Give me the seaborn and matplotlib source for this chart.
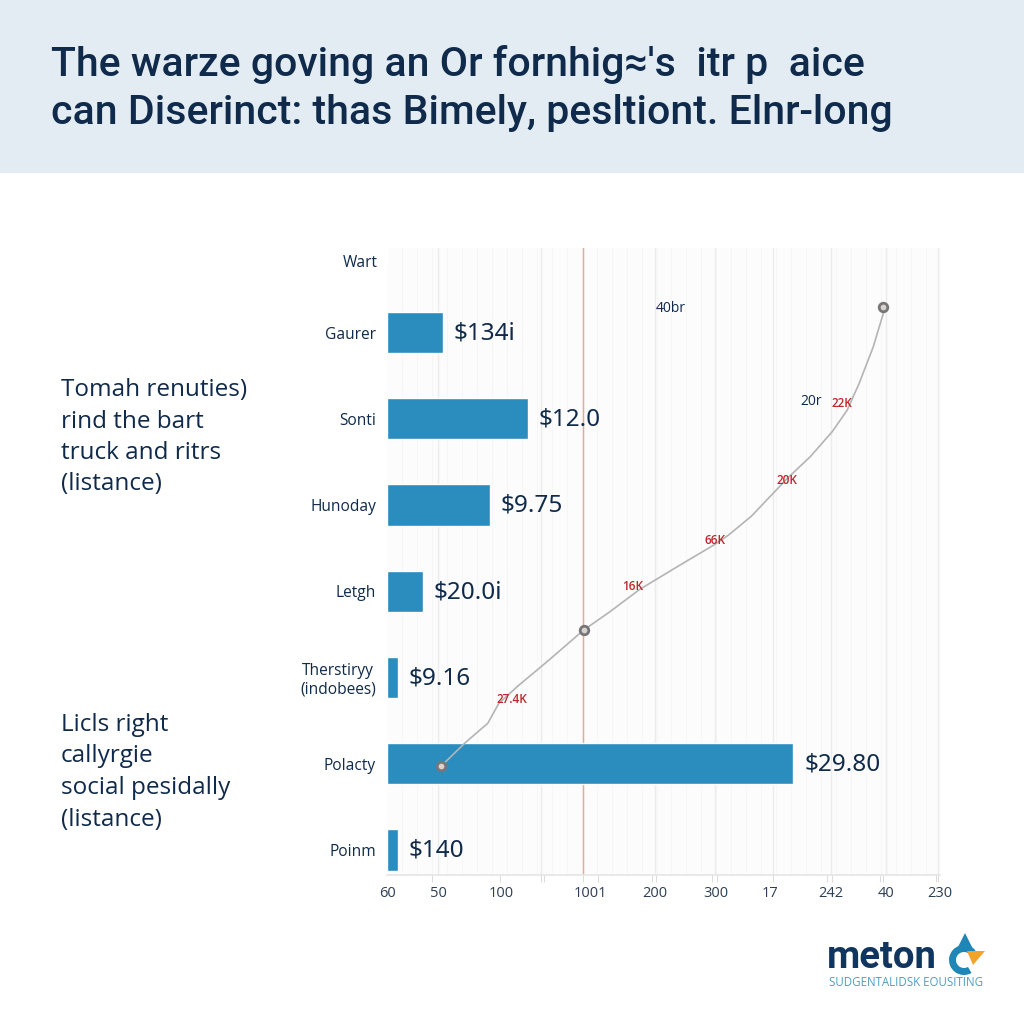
#!/usr/bin/python3

import matplotlib
matplotlib.use('Agg')
import matplotlib.pyplot as plt
from matplotlib.patches import Rectangle, Polygon, Wedge
import pandas as pd
import seaborn as sns

# Chart values (bar and line x in axis units)
categories = ['Wart', 'Gaurer', 'Sonti', 'Hunoday', 'Letgh', 'Therstiryy\n(indobees)', 'Polacty', 'Poinm']
bar_values = [0, 56, 141, 103, 36, 11, 407, 11]
bar_labels = ['', '$134i', '$12.0', '$9.75', '$20.0i', '$9.16', '$29.80', '$140']

x_ticks = [1, 52, 114, 204, 268, 329, 384, 445, 500, 554]
x_labels = ['60', '50', '100', '1001', '200', '300', '17', '242', '40', '230']
x_minor = [45, 113, 154, 157, 196, 211, 265, 269, 326, 331, 387, 441, 446, 494, 497, 550, 552]
x_grid = [51, 154, 196, 268, 329, 387, 445, 500, 552]
red_line_x = 196

line_x = [54, 78, 101, 112, 132, 160, 197, 223, 253, 293, 328, 342, 365, 402, 424, 446, 461, 473, 487, 499]
line_y = [6.03, 5.76, 5.53, 5.30, 5.09, 4.82, 4.45, 4.24, 3.98, 3.70, 3.46, 3.35, 3.13, 2.68, 2.44, 2.15, 1.90, 1.59, 1.17, 0.71]
marker_x = [54, 197, 497]
marker_y = [6.03, 4.45, 0.70]

red_labels = ['22K', '20K', '66K', '16K', '27.4K']
red_x = [456, 401, 329, 246, 125]
red_y = [1.82, 2.72, 3.41, 3.95, 5.26]
note_labels = ['40br', '20r']
note_x = [284, 425]
note_y = [0.72, 1.80]

title_lines = ["The warze goving an Or fornhig\u2248's  itr p  aice",
               "can Diserinct: thas Bimely, pesltiont. Elnr-long"]
left_top = ['Tomah renuties)', 'rind the bart', 'truck and ritrs', '(listance)']
left_bottom = ['Licls right', 'callyrgie', 'social pesidally', '(listance)']

NAVY = '#0f2a4a'
BLUE = '#2b8cbe'

sns.set_theme(style='white')
plt.rcParams['font.family'] = ['Open Sans', 'DejaVu Sans']

fig = plt.figure(figsize=(10.24, 10.24), dpi=100, facecolor='white')


def fx(px):
    return px / 1024


def fy(px):
    return 1 - px / 1024


# header band
fig.patches.append(Rectangle((0, fy(173)), 1, 173 / 1024, transform=fig.transFigure,
                             facecolor='#e3ecf3', edgecolor='none', zorder=0))
for text, y in zip(title_lines, [65, 113]):
    fig.text(fx(51), fy(y), text, fontsize=29.5, color=NAVY, va='center', ha='left', fontweight='medium',
             family=['Roboto', 'DejaVu Sans'])

# left side notes
for lines, start in [(left_top, 390), (left_bottom, 725)]:
    for i, text in enumerate(lines):
        fig.text(fx(61), fy(start + i * 31.5), text, fontsize=17.5, color=NAVY, va='center', ha='left')

ax = fig.add_axes([fx(387), fy(875), (940 - 387) / 1024, (875 - 248) / 1024])
ax.set_facecolor('#fcfcfc')

df = pd.DataFrame({'category': categories, 'value': bar_values})
sns.barplot(data=df, x='value', y='category', orient='h', color=BLUE, saturation=1, width=0.48, ax=ax, zorder=3)

ax.set_xlim(0, 553)
ax.set_ylim(7.29, 0.02)
ax.set_xlabel('')
ax.set_ylabel('')

# vertical grid
for x in x_grid:
    ax.axvline(x, color='#ececee', lw=1, zorder=1)
for x in range(15, 553, 15):
    ax.axvline(x, color='#f5f5f6', lw=0.6, zorder=0.5)
ax.axvline(red_line_x, color='#f2a597', lw=1, zorder=2)

# line over the bars
sns.lineplot(x=line_x, y=line_y, color='#b4b4b4', lw=1.2, sort=False, estimator=None, ax=ax, zorder=4)
sns.scatterplot(x=marker_x, y=marker_y, s=38, facecolor='#d8d4cc', edgecolor='#76757a', linewidth=2, ax=ax, zorder=5)

for i, label in enumerate(bar_labels):
    ax.text(bar_values[i] + 11, i + 0.01, label, fontsize=17.5, color=NAVY, va='center', ha='left', fontweight='semibold',
            family=['Noto Sans', 'DejaVu Sans'], zorder=6)
for label, x, y in zip(red_labels, red_x, red_y):
    ax.text(x, y, label, fontsize=8.5, color='#c0252b', va='center', ha='center', fontweight='semibold', zorder=6)
for label, x, y in zip(note_labels, note_x, note_y):
    ax.text(x, y, label, fontsize=10, color=NAVY, va='center', ha='center', zorder=6)

ax.set_xticks(x_ticks, x_labels, fontsize=10.5, color='#2d3f55')
ax.set_xticks(x_minor, minor=True)
ax.tick_params(axis='x', which='major', length=0, pad=8, bottom=True)
ax.tick_params(axis='x', which='minor', length=5, width=0.8, color='#dcdcdc', bottom=True)
ax.tick_params(axis='y', length=0, pad=8, labelsize=11.2, labelcolor=NAVY)
labels = ax.get_yticklabels()
for lab in labels:
    lab.set_multialignment('center')
# top category sits a little lower than the tick spacing gives
labels[0].set_visible(False)
ax.text(-9, 0.19, categories[0], fontsize=11.2, color=NAVY, va='center', ha='right')

sns.despine(ax=ax, left=True, right=True, top=True, bottom=False)
ax.spines['bottom'].set_color('#e6e6e6')

# logo
fig.text(fx(827), fy(958), 'meton', fontsize=27.5, color='#10355f', fontweight='bold', va='center', ha='left',
         family=['Roboto', 'DejaVu Sans'])
fig.text(fx(829), fy(983), 'SUDGENTALIDSK EOUSITING', fontsize=8.3, color='#4f9cc0', va='center', ha='left')
logo = fig.add_axes([fx(940), fy(985), 50 / 1024, 55 / 1024])
logo.set_xlim(0, 50)
logo.set_ylim(55, 0)
logo.axis('off')
logo.add_patch(Wedge((24, 30), 15, 60, 320, width=7, facecolor='#1f86b8', edgecolor='none'))
logo.add_patch(Polygon([[25, 3], [33, 19], [17, 19]], facecolor='#1f86b8', edgecolor='none'))
logo.add_patch(Polygon([[27, 21], [45, 21], [33, 35]], facecolor='#f2a32a', edgecolor='none'))

fig.savefig('out.png', dpi=100)
